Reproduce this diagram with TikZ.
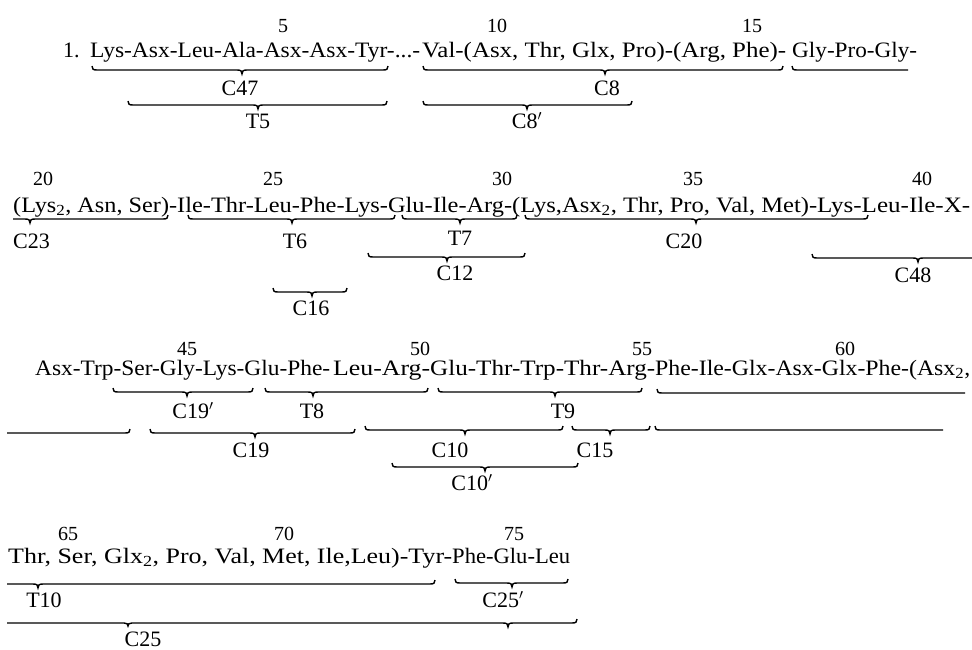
\documentclass[tikz,border=0pt]{standalone}
\usepackage{fontspec}
\setmainfont{Liberation Serif}
\usepackage{graphicx}
% full brace: left x, tip x, right x, y
\newcommand\BRfull[4]{\draw[br] ({#1},{#4-4}) .. controls ({#1},{#4-1}) and ({#1+1},{#4}) .. ({#1+5},{#4}) -- ({#2-5},{#4}) .. controls ({#2-1},{#4}) and ({#2},{#4+1}) .. ({#2},{#4+4}) .. controls ({#2},{#4+1}) and ({#2+1},{#4}) .. ({#2+5},{#4}) -- ({#3-5},{#4}) .. controls ({#3-1},{#4}) and ({#3},{#4-1}) .. ({#3},{#4-4});}
% open at left: start x, tip x, right x, y
\newcommand\BRopenL[4]{\draw[br] ({#1},{#4}) -- ({#2-5},{#4}) .. controls ({#2-1},{#4}) and ({#2},{#4+1}) .. ({#2},{#4+4}) .. controls ({#2},{#4+1}) and ({#2+1},{#4}) .. ({#2+5},{#4}) -- ({#3-5},{#4}) .. controls ({#3-1},{#4}) and ({#3},{#4-1}) .. ({#3},{#4-4});}
% open at right: left x, tip x, end x, y
\newcommand\BRopenR[4]{\draw[br] ({#1},{#4-4}) .. controls ({#1},{#4-1}) and ({#1+1},{#4}) .. ({#1+5},{#4}) -- ({#2-5},{#4}) .. controls ({#2-1},{#4}) and ({#2},{#4+1}) .. ({#2},{#4+4}) .. controls ({#2},{#4+1}) and ({#2+1},{#4}) .. ({#2+5},{#4}) -- ({#3},{#4});}
% left end only, no tip: left x, end x, y
\newcommand\BRleft[3]{\draw[br] ({#1},{#3-4}) .. controls ({#1},{#3-1}) and ({#1+1},{#3}) .. ({#1+5},{#3}) -- ({#2},{#3});}
% right end only, no tip: start x, right x, y
\newcommand\BRright[3]{\draw[br] ({#1},{#3}) -- ({#2-5},{#3}) .. controls ({#2-1},{#3}) and ({#2},{#3-1}) .. ({#2},{#3-4});}
\begin{document}
\begin{tikzpicture}[x=1pt,y=-1pt,
  br/.style={line width=1.4pt,black},
  seq/.style={anchor=base west,inner sep=0pt,font=\fontsize{22}{26}\selectfont},
  num/.style={anchor=base,inner sep=0pt,font=\fontsize{20}{24}\selectfont},
  lab/.style={anchor=base,inner sep=0pt,font=\fontsize{22}{26}\selectfont}]
\useasboundingbox (0,0) rectangle (972,649);
\fill[white] (0,0) rectangle (972,649);

% ---------- line 1 ----------
\node[num] (n5) at (283,32) {5};
\node[num] (n10) at (497,32) {10};
\node[num] (n15) at (752,32) {15};
\node[seq] (l1n) at (63,57) {1.};
\node[seq] (l1a) at (90,57) {\resizebox{330pt}{\height}{Lys-Asx-Leu-Ala-Asx-Asx-Tyr-...-}};
\node[seq] (l1b) at (422,57) {\resizebox{364pt}{\height}{Val-(Asx, Thr, Glx, Pro)-(Arg, Phe)-}};
\node[seq] (l1c) at (792,57) {\resizebox{125pt}{\height}{Gly-Pro-Gly-}};
\BRfull{92}{242}{388}{70}
\BRfull{423}{605}{783}{70}
\BRleft{792}{908}{70}
\BRfull{128}{258}{387}{105}
\BRfull{423}{527}{632}{105}
\node[lab] (c47) at (240,95) {C47};
\node[lab] (c8) at (607,95) {C8};
\node[lab] (t5) at (258,128) {T5};
\node[lab] (c8p) at (527,128) {C8$'$};

% ---------- line 2 ----------
\node[num] (n20) at (43,185) {20};
\node[num] (n25) at (273,185) {25};
\node[num] (n30) at (502,185) {30};
\node[num] (n35) at (693,185) {35};
\node[num] (n40) at (922,185) {40};
\node[seq] (l2a) at (13,212) {\resizebox{164pt}{\height}{(Lys\textsubscript{2}, Asn, Ser)-}};
\node[seq] (l2b) at (177,212) {\resizebox{335pt}{\height}{Ile-Thr-Leu-Phe-Lys-Glu-Ile-Arg-}};
\node[seq] (l2c) at (512,212) {\resizebox{305pt}{\height}{(Lys,Asx\textsubscript{2}, Thr, Pro, Val, Met)-}};
\node[seq] (l2d) at (817,212) {\resizebox{153pt}{\height}{Lys-Leu-Ile-X-}};
\BRopenL{13}{30}{168}{219}
\BRfull{188}{292}{395}{219}
\BRfull{402}{460}{517}{219}
\BRfull{525}{696}{868}{219}
\BRfull{368}{447}{525}{257}
\BRopenR{812}{918}{972}{258}
\BRfull{273}{312}{347}{292}
\node[lab,anchor=base west] (c23) at (13,248) {C23};
\node[lab] (t6) at (295,248) {T6};
\node[lab] (t7) at (460,245) {T7};
\node[lab] (c20) at (684,248) {C20};
\node[lab] (c12) at (455,280) {C12};
\node[lab] (c48) at (913,282) {C48};
\node[lab] (c16) at (311,315) {C16};

% ---------- line 3 ----------
\node[num] (n45) at (187,355) {45};
\node[num] (n50) at (420,355) {50};
\node[num] (n55) at (642,355) {55};
\node[num] (n60) at (845,355) {60};
\node[seq] (l3a) at (35,375) {\resizebox{295pt}{\height}{Asx-Trp-Ser-Gly-Lys-Glu-Phe-}};
\node[seq] (l3b) at (333,375) {\resizebox{97pt}{\height}{Leu-Arg-}};
\node[seq] (l3c) at (430,375) {\resizebox{225pt}{\height}{Glu-Thr-Trp-Thr-Arg-}};
\node[seq] (l3d) at (655,375) {\resizebox{315pt}{\height}{Phe-Ile-Glx-Asx-Glx-Phe-(Asx\textsubscript{2},}};
\BRfull{113}{187}{253}{392}
\BRfull{265}{313}{428}{392}
\BRfull{438}{555}{642}{392}
\BRleft{657}{965}{393}
\BRright{7}{130}{433}
\BRfull{150}{255}{355}{433}
\BRfull{365}{465}{563}{430}
\BRfull{572}{610}{650}{430}
\BRleft{655}{943}{430}
\BRfull{392}{485}{578}{467}
\node[lab] (c19p) at (193,418) {C19$'$};
\node[lab] (t8) at (312,418) {T8};
\node[lab] (t9) at (563,418) {T9};
\node[lab] (c19) at (251,457) {C19};
\node[lab] (c10) at (450,457) {C10};
\node[lab] (c15) at (595,457) {C15};
\node[lab] (c10p) at (472,490) {C10$'$};

% ---------- line 4 ----------
\node[num] (n65) at (68,540) {65};
\node[num] (n70) at (284,540) {70};
\node[num] (n75) at (514,540) {75};
\node[seq] (l4a) at (8,563) {\resizebox{444pt}{\height}{Thr, Ser, Glx\textsubscript{2}, Pro, Val, Met, Ile,Leu)-Tyr-}};
\node[seq] (l4b) at (452,563) {\resizebox{118pt}{\height}{Phe-Glu-Leu}};
\BRopenL{7}{38}{435}{584}
\BRfull{455}{512}{568}{583}
\draw[br] (7,623) -- (124,623) .. controls (127,623) and (128,624) .. (128,626) .. controls (128,624) and (129,623) .. (132,623)
  -- (503,623) .. controls (507,623) and (508,624) .. (508,627) .. controls (508,624) and (509,623) .. (513,623)
  -- (572,623) .. controls (576,623) and (577,622) .. (577,619);
\node[lab] (t10) at (44,607) {T10};
\node[lab] (c25p) at (503,607) {C25$'$};
\node[lab] (c25) at (143,646) {C25};
\end{tikzpicture}
\end{document}
